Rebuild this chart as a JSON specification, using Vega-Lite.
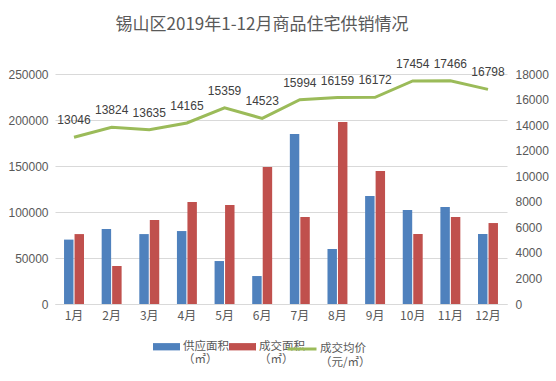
{
  "$schema": "https://vega.github.io/schema/vega-lite/v6.json",
  "width": 452,
  "height": 230,
  "autosize": {"type": "none"},
  "padding": {"left": 55, "top": 74, "right": 49, "bottom": 77},
  "background": "white",
  "title": {"text": "锡山区2019年1-12月商品住宅供销情况", "anchor": "middle", "dx": -19, "offset": 24, "fontSize": 17, "font": "Noto Sans CJK SC", "color": "#595959", "fontWeight": "normal"},
  "config": {
    "view": {"stroke": null},
    "font": "Noto Sans CJK SC",
    "axis": {"labelFont": "Liberation Sans", "labelFontSize": 12, "labelColor": "#595959", "ticks": false, "title": null, "labelOverlap": false}
  },
  "data": {"values": [
    {"month": "1月", "供应面积": 70000, "成交面积": 76000, "price": 13046},
    {"month": "2月", "供应面积": 81500, "成交面积": 41300, "price": 13824},
    {"month": "3月", "供应面积": 76000, "成交面积": 91300, "price": 13635},
    {"month": "4月", "供应面积": 79300, "成交面积": 110900, "price": 14165},
    {"month": "5月", "供应面积": 46700, "成交面积": 107600, "price": 15359},
    {"month": "6月", "供应面积": 30400, "成交面积": 148900, "price": 14523},
    {"month": "7月", "供应面积": 184800, "成交面积": 94600, "price": 15994},
    {"month": "8月", "供应面积": 59800, "成交面积": 197800, "price": 16159},
    {"month": "9月", "供应面积": 117400, "成交面积": 144600, "price": 16172},
    {"month": "10月", "供应面积": 102200, "成交面积": 76100, "price": 17454},
    {"month": "11月", "供应面积": 105400, "成交面积": 94600, "price": 17466},
    {"month": "12月", "供应面积": 76100, "成交面积": 88000, "price": 16798}
  ]},
  "encoding": {
    "x": {"field": "month", "type": "nominal", "sort": null,
      "scale": {"paddingInner": 0.47, "paddingOuter": 0.24},
      "axis": {"labelAngle": 0, "domainColor": "#d9d9d9", "labelPadding": 6, "labelFont": "Noto Sans CJK SC"}}
  },
  "layer": [
    {
      "transform": [{"fold": ["供应面积", "成交面积"], "as": ["key", "area"]}],
      "mark": {"type": "bar"},
      "encoding": {
        "xOffset": {"field": "key", "type": "nominal", "sort": ["供应面积", "成交面积"], "scale": {"paddingInner": 0.1}},
        "y": {"field": "area", "type": "quantitative",
          "scale": {"domain": [0, 250000]},
          "axis": {"values": [0, 50000, 100000, 150000, 200000, 250000], "format": "d", "domain": false, "gridColor": "#d9d9d9", "labelPadding": 7}},
        "fill": {"field": "key", "type": "nominal",
          "scale": {"domain": ["供应面积", "成交面积"], "range": ["#4f81bd", "#c0504d"]},
          "legend": {"orient": "none", "legendX": 98, "legendY": 259, "direction": "horizontal", "title": null,
            "symbolType": "M-1,-0.27H1V0.27H-1Z", "symbolSize": 729, "symbolStrokeWidth": 0,
            "labelExpr": "[datum.label, '\u2002（㎡）']", "labelAlign": "left", "labelOffset": 3,
            "labelFontSize": 11.5, "labelColor": "#595959", "labelFont": "Noto Sans CJK SC", "columnPadding": -3, "labelLimit": 200}}
      }
    },
    {
      "layer": [
        {
          "mark": {"type": "line", "strokeWidth": 3, "color": "#9bbb59"},
          "encoding": {
            "y": {"field": "price", "type": "quantitative", "scale": {"domain": [0, 18000]},
              "axis": {"orient": "right", "values": [0, 2000, 4000, 6000, 8000, 10000, 12000, 14000, 16000, 18000], "format": "d", "grid": false, "domain": false, "labelPadding": 8, "labelOverlap": false, "labelFlush": false, "labelBound": false}},
            "stroke": {"datum": "成交均价", "type": "nominal",
              "scale": {"range": ["#9bbb59"]},
              "legend": {"orient": "none", "legendX": 231, "legendY": 259, "title": null,
                "symbolType": "stroke", "symbolSize": 841, "symbolStrokeWidth": 3,
                "labelExpr": "['成交均价', '\u2005（元/㎡）']", "labelAlign": "left", "labelOffset": 2,
                "labelFontSize": 11.5, "labelColor": "#595959", "labelFont": "Noto Sans CJK SC", "labelLimit": 200}}
          }
        },
        {
          "mark": {"type": "text", "dy": -17, "fontSize": 12, "color": "#404040", "font": "Liberation Sans"},
          "encoding": {
            "y": {"field": "price", "type": "quantitative", "axis": {"orient": "right", "values": [0, 2000, 4000, 6000, 8000, 10000, 12000, 14000, 16000, 18000], "format": "d", "grid": false, "domain": false, "labelPadding": 8, "labelOverlap": false, "labelFlush": false, "labelBound": false}},
            "text": {"field": "price", "type": "quantitative", "format": "d"}
          }
        }
      ]
    }
  ],
  "resolve": {"scale": {"y": "independent", "fill": "independent", "stroke": "independent"}}
}
